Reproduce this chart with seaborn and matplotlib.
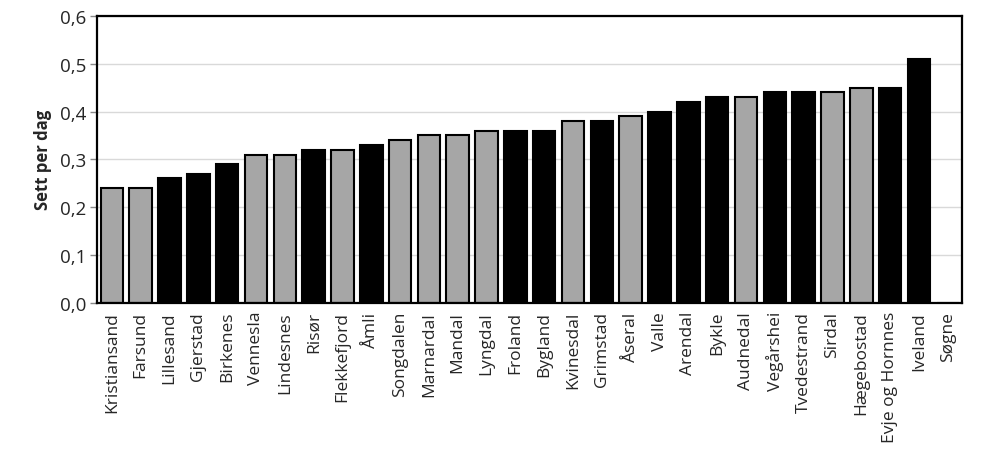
import pandas as pd
import matplotlib
matplotlib.use("Agg")
import matplotlib.pyplot as plt
import seaborn as sns

# Data
kommuner = ["Kristiansand", "Farsund", "Lillesand", "Gjerstad", "Birkenes", "Vennesla",
            "Lindesnes", "Risør", "Flekkefjord", "Åmli", "Songdalen", "Marnardal", "Mandal",
            "Lyngdal", "Froland", "Bygland", "Kvinesdal", "Grimstad", "Åseral", "Valle",
            "Arendal", "Bykle", "Audnedal", "Vegårshei", "Tvedestrand", "Sirdal",
            "Hægebostad", "Evje og Hornnes", "Iveland", "Søgne"]
sett_per_dag = [0.24, 0.24, 0.26, 0.27, 0.29, 0.31, 0.31, 0.32, 0.32, 0.33, 0.34, 0.35, 0.35,
                0.36, 0.36, 0.36, 0.38, 0.38, 0.39, 0.40, 0.42, 0.43, 0.43, 0.44, 0.44, 0.44,
                0.45, 0.45, 0.51, 0.0]
gruppe = ["grå", "grå", "svart", "svart", "svart", "grå", "grå", "svart", "grå", "svart",
          "grå", "grå", "grå", "grå", "svart", "svart", "grå", "svart", "grå", "svart",
          "svart", "svart", "grå", "svart", "svart", "grå", "grå", "svart", "svart", "svart"]

df = pd.DataFrame({"kommune": kommuner, "sett": sett_per_dag, "gruppe": gruppe})

sns.set_style("white")
plt.rcParams["font.family"] = ["Open Sans", "DejaVu Sans"]

fig, ax = plt.subplots(figsize=(9.94, 4.6), dpi=100)
fig.subplots_adjust(left=0.098, right=0.968, top=0.963, bottom=0.34)

sns.barplot(data=df, x="kommune", y="sett", hue="gruppe",
            palette={"grå": "#A6A6A6", "svart": "#000000"},
            edgecolor="black", linewidth=1.5, width=0.78, dodge=False,
            legend=False, ax=ax)

ax.set_ylim(0, 0.6)
ax.set_yticks([0, 0.1, 0.2, 0.3, 0.4, 0.5, 0.6])
ax.set_yticklabels([f"{v:.1f}".replace(".", ",") for v in ax.get_yticks()], fontsize=13.5)
ax.yaxis.grid(True, color="#D9D9D9", linewidth=1)
ax.set_axisbelow(True)
ax.tick_params(axis="y", length=5, width=1, color="#888888", left=True, pad=3)
ax.tick_params(axis="x", length=0, pad=6)
plt.xticks(rotation=90, fontsize=12.5)
ax.set_xlabel("")
ax.set_ylabel("Sett per dag", fontsize=12, fontweight="bold", labelpad=6)
ax.set_xlim(-0.5, len(kommuner) - 0.5)

for s in ax.spines.values():
    s.set_visible(True)
    s.set_color("black")
    s.set_linewidth(1.6)

fig.savefig("out.png", dpi=100)
